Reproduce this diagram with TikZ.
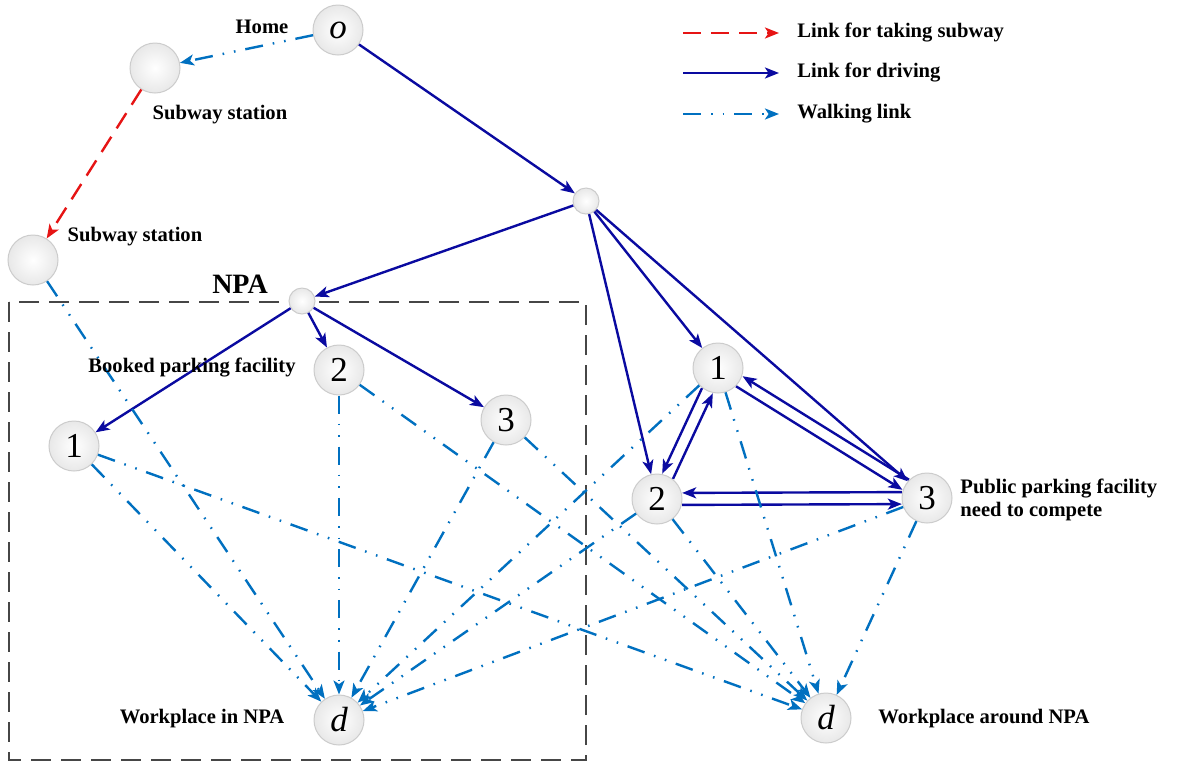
\documentclass[tikz,border=0pt]{standalone}
\usepackage{fontspec}
\setmainfont{Liberation Serif}
\usetikzlibrary{arrows.meta,calc}
\definecolor{drivecol}{RGB}{10,10,160}
\definecolor{walkcol}{RGB}{0,112,192}
\definecolor{subwaycol}{RGB}{230,20,20}
\definecolor{boxcol}{RGB}{70,70,70}
\tikzset{
  place/.style={circle, draw=black!20, line width=0.5pt, inner color=white, outer color=black!9,
    minimum size=25pt, inner sep=0pt, font=\fontsize{17.5}{17.5}\selectfont},
  junction/.style={place, minimum size=13pt},
  lbl/.style={font=\fontsize{10.3}{11.5}\selectfont\bfseries, inner sep=1pt},
  tip/.style={-{Stealth[length=7pt,width=5.5pt,inset=1.8pt]}},
  drive/.style={drivecol, line width=1.2pt, tip},
  walk/.style={walkcol, line width=1.2pt, dash pattern=on 9pt off 5pt on 0.8pt off 5pt on 0.8pt off 5pt, tip},
  subway/.style={subwaycol, line width=1.2pt, dash pattern=on 9pt off 5pt, tip}
}
\begin{document}
\begin{tikzpicture}[x=0.5pt,y=-0.5pt]
\fill [white] (0,0) rectangle (1177,762);
\draw [boxcol, line width=1pt, dash pattern=on 10pt off 5pt] (9,302) rectangle (586,760);

\node [place] (o) at (338,30) {\itshape o};
\node [place] (S1) at (155,68) {};
\node [place] (S2) at (33,260) {};
\node [junction] (J1) at (586,201) {};
\node [junction] (J2) at (302,301) {};
\node [place] (B1) at (74,446) {1};
\node [place] (B2) at (339,370) {2};
\node [place] (B3) at (506,420) {3};
\node [place] (P1) at (718,368) {1};
\node [place] (P2) at (657,499) {2};
\node [place] (P3) at (927,498) {3};
\node [place] (dIn) at (339,720) {\itshape d};
\node [place] (dOut) at (826,718) {\itshape d};

\draw [walk] (o) -- (S1);
\draw [subway] (S1) -- (S2);
\draw [drive] (o) -- (J1);
\draw [drive] (J1) -- (J2);
\foreach \t in {B1,B2,B3} \draw [drive] (J2) -- (\t);
\foreach \t in {P1,P2,P3} \draw [drive] (J1) -- (\t);
\foreach \a/\b in {P1/P2,P2/P1,P1/P3,P3/P1,P2/P3,P3/P2}
  \draw [drive, shorten <=12.5pt, shorten >=12.6pt] ($(\a)!3pt!-90:(\b)$) -- ($(\b)!3pt!90:(\a)$);
\foreach \s in {S2,B1,B2,B3,P1,P2,P3} \draw [walk] (\s) -- (dIn);
\foreach \s in {B1,B2,B3,P1,P2,P3} \draw [walk] (\s) -- (dOut);

\node [lbl] (home) at (262,27) {Home};
\node [lbl] (sub1) at (220,115) {Subway station};
\node [lbl] (sub2) at (135,237) {Subway station};
\node [lbl, font=\fontsize{14}{14}\selectfont\bfseries] (npa) at (240,284) {NPA};
\node [lbl, anchor=east] (booked) at (298,368) {Booked parking facility};
\node [lbl] (wkin) at (202,719) {Workplace in NPA};
\node [lbl, anchor=west, align=left] (public) at (958,500) {Public parking facility\\need to compete};
\node [lbl, anchor=west] (wkout) at (876,719) {Workplace around NPA};

\node [lbl, anchor=west] (leg1) at (795,33) {Link for taking subway};
\node [lbl, anchor=west] (leg2) at (795,73) {Link for driving};
\node [lbl, anchor=west] (leg3) at (795,114) {Walking link};
\coordinate (l1) at (683,33);
\coordinate (l2) at (683,73);
\coordinate (l3) at (683,114);
\draw [subway, shorten >=8pt] (l1) -- (leg1.west);
\draw [drive, shorten >=8pt] (l2) -- (leg2.west);
\draw [walk, shorten >=8pt] (l3) -- (leg3.west);
\end{tikzpicture}
\end{document}
